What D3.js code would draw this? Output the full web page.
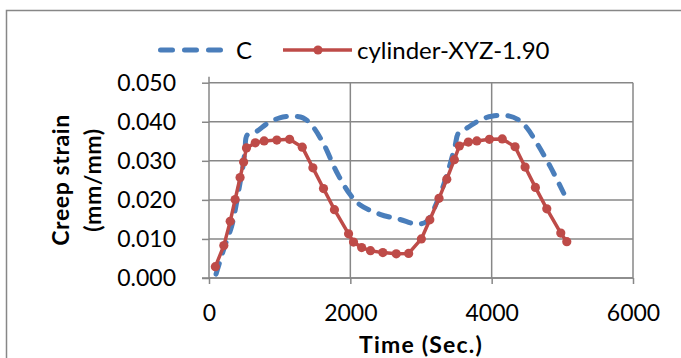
<!DOCTYPE html>
<html>
<head>
<meta charset="utf-8">
<script src="https://cdn.jsdelivr.net/npm/d3@7/dist/d3.min.js"></script>
<style>
  html, body { margin: 0; padding: 0; background: #fff; }
  svg { display: block; font-family: Lato, "Open Sans", sans-serif; }
</style>
</head>
<body>
<svg id="chart" width="681" height="358"></svg>
<script>
// Series "C" (smoothed, dashed): time in seconds, creep strain in mm/mm
const cTime   = [100, 220, 320, 380, 430, 480, 510, 540, 680, 820, 1000, 1190, 1330, 1450, 1620, 1810, 2000, 2140, 2420, 2700, 2940, 3080, 3220, 3360, 3480, 3530, 3650, 3840, 4000, 4210, 4380, 4500, 4640, 4830, 5020];
const cStrain = [0.0010, 0.0080, 0.0132, 0.0183, 0.0234, 0.0285, 0.0328, 0.0366, 0.0376, 0.0395, 0.0410, 0.0414, 0.0410, 0.0392, 0.0344, 0.0270, 0.0213, 0.0187, 0.0163, 0.0150, 0.0138, 0.0145, 0.0192, 0.0260, 0.0337, 0.0371, 0.0384, 0.0405, 0.0414, 0.0416, 0.0405, 0.0384, 0.0345, 0.0285, 0.0217];

// Series "cylinder-XYZ-1.90" (markers + straight segments)
const cylTime   = [90, 210, 300, 370, 440, 490, 530, 655, 780, 960, 1140, 1320, 1470, 1620, 1775, 1975, 2045, 2160, 2285, 2460, 2650, 2825, 3005, 3125, 3255, 3365, 3472, 3543, 3670, 3790, 3968, 4150, 4331, 4473, 4619, 4780, 4978, 5063];
const cylStrain = [0.0029, 0.0083, 0.0145, 0.0201, 0.0257, 0.0297, 0.0333, 0.0346, 0.0351, 0.0353, 0.0355, 0.0335, 0.0282, 0.0229, 0.0175, 0.0113, 0.0092, 0.0078, 0.0070, 0.0065, 0.0062, 0.0063, 0.0100, 0.0149, 0.0204, 0.0253, 0.0303, 0.0338, 0.0348, 0.0351, 0.0355, 0.0356, 0.0336, 0.0284, 0.0232, 0.0177, 0.0115, 0.0093];

const xTicks = [0, 2000, 4000, 6000];
const yTicks = [0.000, 0.010, 0.020, 0.030, 0.040, 0.050];
const seriesNames = ["C", "cylinder-XYZ-1.90"];
const xTitle = "Time (Sec.)";
const yTitleLines = ["Creep strain", "(mm/mm)"];

const blue = "#4A7EBB";
const red = "#BE4B48";
const gridColor = "#878787";

const svg = d3.select("#chart");

// chart frame
svg.append("rect")
  .attr("x", 6.5).attr("y", 10.5)
  .attr("width", 700).attr("height", 400)
  .attr("fill", "#fff")
  .attr("stroke", gridColor).attr("stroke-width", 1.5);

const plot = { left: 209, right: 633, top: 82.7, bottom: 278 };

const x = d3.scaleLinear().domain([0, 6000]).range([plot.left, plot.right]);
const y = d3.scaleLinear().domain([0, 0.05]).range([plot.bottom, plot.top]);

// horizontal gridlines
svg.append("g")
  .selectAll("line")
  .data(yTicks)
  .join("line")
  .attr("x1", plot.left).attr("x2", plot.right)
  .attr("y1", d => y(d)).attr("y2", d => y(d))
  .attr("stroke", gridColor).attr("stroke-width", 1.5);

// vertical gridlines (skip the axis itself)
svg.append("g")
  .selectAll("line")
  .data(xTicks.slice(1))
  .join("line")
  .attr("x1", d => x(d)).attr("x2", d => x(d))
  .attr("y1", plot.top).attr("y2", plot.bottom)
  .attr("stroke", gridColor).attr("stroke-width", 1.5);

// y axis
const yAxis = d3.axisLeft(y).tickValues(yTicks).tickFormat(d3.format(".3f")).tickSize(7).tickPadding(26);
const gy = svg.append("g").attr("transform", `translate(${plot.left},0)`).call(yAxis);
gy.select(".domain").attr("stroke", gridColor).attr("stroke-width", 1.5).attr("d", `M0,${plot.top - 6}V${plot.bottom}`);
gy.selectAll(".tick line").attr("stroke", gridColor).attr("stroke-width", 1.5);
gy.selectAll(".tick text").attr("font-size", 23).attr("fill", "#000").attr("font-family", "Lato");

// x axis
const xAxis = d3.axisBottom(x).tickValues(xTicks).tickFormat(d3.format("d")).tickSize(6).tickPadding(21);
const gx = svg.append("g").attr("transform", `translate(0,${plot.bottom})`).call(xAxis);
gx.select(".domain").attr("stroke", gridColor).attr("stroke-width", 1.5).attr("d", `M${plot.left - 7},0H${plot.right}`);
gx.selectAll(".tick line").attr("stroke", gridColor).attr("stroke-width", 1.5);
gx.selectAll(".tick text").attr("font-size", 23).attr("fill", "#000").attr("font-family", "Lato");

// axis titles
svg.append("text")
  .attr("x", (plot.left + plot.right) / 2).attr("y", 353)
  .attr("text-anchor", "middle")
  .attr("font-size", 23).attr("font-weight", "bold")
  .attr("letter-spacing", 1.2)
  .text(xTitle);

const yt = svg.append("text")
  .attr("transform", "translate(69,180) rotate(-90)")
  .attr("text-anchor", "middle")
  .attr("font-size", 23).attr("font-weight", "bold")
  .attr("letter-spacing", 0.6);
yt.selectAll("tspan").data(yTitleLines).join("tspan")
  .attr("x", 0).attr("dy", (d, i) => i === 0 ? 0 : 32)
  .text(d => d);

// series C: smoothed dashed line
const cData = cTime.map((t, i) => [t, cStrain[i]]);
svg.append("path")
  .datum(cData)
  .attr("fill", "none")
  .attr("stroke", blue).attr("stroke-width", 5)
  .attr("stroke-linecap", "round")
  .attr("stroke-dasharray", "11 11")
  .attr("d", d3.line().x(d => x(d[0])).y(d => y(d[1])).curve(d3.curveCatmullRom.alpha(0.5)));

// series cylinder-XYZ-1.90: straight line with markers
const cylData = cylTime.map((t, i) => [t, cylStrain[i]]);
svg.append("path")
  .datum(cylData)
  .attr("fill", "none")
  .attr("stroke", red).attr("stroke-width", 3.5)
  .attr("stroke-linejoin", "round")
  .attr("d", d3.line().x(d => x(d[0])).y(d => y(d[1])));
svg.append("g")
  .selectAll("circle")
  .data(cylData)
  .join("circle")
  .attr("cx", d => x(d[0])).attr("cy", d => y(d[1]))
  .attr("r", 4.6)
  .attr("fill", red);

// legend
const lg = svg.append("g").attr("font-size", 24);
lg.append("line")
  .attr("x1", 160.5).attr("x2", 220.5).attr("y1", 50).attr("y2", 50)
  .attr("stroke", blue).attr("stroke-width", 5)
  .attr("stroke-linecap", "round").attr("stroke-dasharray", "12 12");
lg.append("text").attr("x", 236).attr("y", 58.5).text(seriesNames[0]);
lg.append("line")
  .attr("x1", 283).attr("x2", 352).attr("y1", 50).attr("y2", 50)
  .attr("stroke", red).attr("stroke-width", 3.5);
lg.append("circle").attr("cx", 318).attr("cy", 50).attr("r", 4.6).attr("fill", red);
lg.append("text").attr("x", 357).attr("y", 58.5).text(seriesNames[1]);
</script>
</body>
</html>
